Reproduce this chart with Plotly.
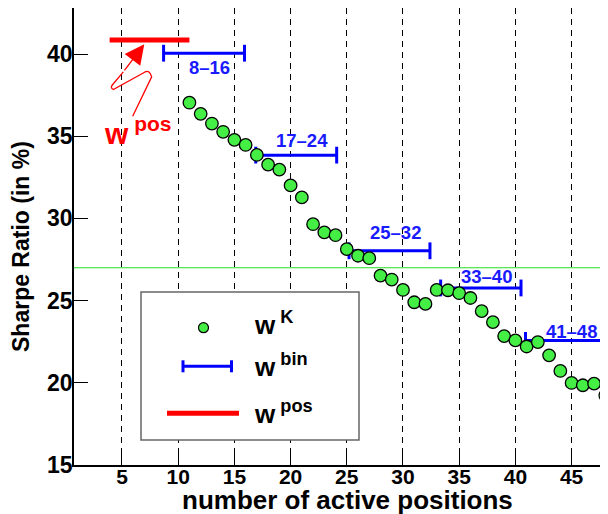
import plotly.graph_objects as go

# ---------------- data ----------------
k_positions = list(range(11, 49))
sharpe_k = [37.04, 36.36, 35.77, 35.27, 34.78, 34.47, 33.86, 33.27, 32.97, 32.01,
            31.28, 29.65, 29.15, 28.98, 28.13, 27.73, 27.58, 26.52, 26.28, 25.65,
            24.90, 24.80, 25.65, 25.63, 25.45, 25.16, 24.36, 23.69, 22.84, 22.58,
            22.21, 22.48, 21.67, 20.72, 19.99, 19.85, 19.95, 19.24]

bin_labels = ["8–16", "17–24", "25–32", "33–40", "41–48"]
bin_start = [8.7, 16.9, 25.2, 33.35, 40.9]
bin_end = [15.9, 24.1, 32.4, 40.5, 48.6]
bin_value = [40.05, 33.85, 28.03, 25.77, 22.58]

pos_start = 3.9
pos_end = 11.0
pos_value = 40.85

baseline_value = 27.0

x_ticks = [5, 10, 15, 20, 25, 30, 35, 40, 45]
y_ticks = [15, 20, 25, 30, 35, 40]

# ---------------- styling ----------------
FONT = "Liberation Sans, Arial, sans-serif"
GREEN = "#44ee44"
BLUE = "#0000ff"
BLUE_TXT = "#1a1aff"
RED = "#ff0000"

# page has an 8px body margin; the figure is sized so that it fills the window
OFF = 8
W, H = 608 - OFF, 514 - OFF
P_LEFT, P_RIGHT, P_TOP, P_BOTTOM = 74, 608, 8, 465   # plot area in window pixels
ML, MR, MT, MB = P_LEFT - OFF, 0, P_TOP - OFF, (514 - P_BOTTOM)
PW, PH = P_RIGHT - P_LEFT, P_BOTTOM - P_TOP


def px(xp):
    return (xp - P_LEFT) / PW


def py(yp):
    return (P_BOTTOM - yp) / PH


fig = go.Figure()

# w^pos line
fig.add_trace(go.Scatter(x=[pos_start, pos_end], y=[pos_value, pos_value], mode="lines",
                         line=dict(color=RED, width=5), showlegend=False, hoverinfo="skip"))

# bins
for s, e, v in zip(bin_start, bin_end, bin_value):
    fig.add_trace(go.Scatter(x=[s, e], y=[v, v], mode="lines+markers",
                             line=dict(color=BLUE, width=3),
                             marker=dict(symbol="line-ns", size=12,
                                         line=dict(color=BLUE, width=3)),
                             showlegend=False, hoverinfo="skip"))

# w^K points
fig.add_trace(go.Scatter(x=k_positions, y=sharpe_k, mode="markers",
                         marker=dict(color=GREEN, size=12.5,
                                     line=dict(color="black", width=1.3)),
                         showlegend=False))

shapes = []
# green baseline
shapes.append(dict(type="line", xref="paper", yref="y", x0=0, x1=1,
                   y0=baseline_value, y1=baseline_value,
                   line=dict(color="#22e022", width=1.2), layer="below"))

# zigzag arrow path (decoration)
shapes.append(dict(type="path", xref="x", yref="y",
                   path="M 5.95,36.22 L 7.64,38.61 Q 7.45,39.05 7.05,38.91 "
                        "L 4.23,37.84 Q 3.95,37.95 4.12,38.1 L 5.12,38.91",
                   line=dict(color=RED, width=1.3)))

# legend box
shapes.append(dict(type="rect", xref="paper", yref="paper",
                   x0=px(141), x1=px(359), y0=py(440), y1=py(292),
                   line=dict(color="#666666", width=1.5), fillcolor="white"))
# legend: green marker
shapes.append(dict(type="circle", xref="paper", yref="paper",
                   x0=px(198.5), x1=px(208.5), y0=py(332.7), y1=py(322.7),
                   line=dict(color="black", width=1.2), fillcolor=GREEN))
# legend: blue bin
shapes.append(dict(type="line", xref="paper", yref="paper",
                   x0=px(183), x1=px(231.5), y0=py(366.3), y1=py(366.3),
                   line=dict(color=BLUE, width=3)))
for xx in (183, 231.5):
    shapes.append(dict(type="line", xref="paper", yref="paper",
                       x0=px(xx), x1=px(xx), y0=py(360.3), y1=py(372.3),
                       line=dict(color=BLUE, width=3)))
# legend: red line
shapes.append(dict(type="line", xref="paper", yref="paper",
                   x0=px(167), x1=px(239), y0=py(413.3), y1=py(413.3),
                   line=dict(color=RED, width=5)))

annotations = []
# arrow head
annotations.append(dict(x=6.98, y=40.59, ax=5.12, ay=38.91, xref="x", yref="y",
                        axref="x", ayref="y", text="", showarrow=True,
                        arrowhead=2, arrowsize=3, arrowwidth=1.3,
                        arrowcolor=RED, standoff=0))
# w^pos red label
annotations.append(dict(x=px(102), y=py(152), xref="paper", yref="paper",
                        xanchor="left", yanchor="bottom", showarrow=False,
                        text="w<sup> pos</sup>",
                        font=dict(family=FONT, size=30, color=RED, weight="bold")))

# bin labels
label_yshift = [-14, 15, 18, 11.5, 9]
for lab, s, e, v, ys in zip(bin_labels, bin_start, bin_end, bin_value, label_yshift):
    annotations.append(dict(x=s + 4.0, y=v, xref="x", yref="y", text=lab,
                            showarrow=False, yshift=ys, xshift=1,
                            font=dict(family=FONT, size=18.5, color=BLUE_TXT, weight="bold")))

# legend texts
for txt, yb in (("w<sup> K</sup>", 342), ("w<sup> bin</sup>", 384), ("w<sup> pos</sup>", 431)):
    annotations.append(dict(x=px(252), y=py(yb), xref="paper", yref="paper",
                            xanchor="left", yanchor="bottom", showarrow=False, text=txt,
                            font=dict(family=FONT, size=26, color="black", weight="bold")))

# axis titles
annotations.append(dict(x=px(347), y=py(517), xref="paper", yref="paper",
                        xanchor="center", yanchor="bottom", showarrow=False,
                        text="number of active positions",
                        font=dict(family=FONT, size=26, color="black", weight="bold")))
annotations.append(dict(x=px(21), y=py(247), xref="paper", yref="paper",
                        xanchor="center", yanchor="middle", showarrow=False,
                        textangle=-90, text="Sharpe Ratio (in %)",
                        font=dict(family=FONT, size=23, color="black", weight="bold")))

fig.update_layout(
    width=W, height=H,
    margin=dict(l=ML, r=MR, t=MT, b=MB, pad=0, autoexpand=False),
    paper_bgcolor="white", plot_bgcolor="white",
    shapes=shapes, annotations=annotations,
    showlegend=False,
    font=dict(family=FONT, color="black"),
)
fig.update_xaxes(range=[0.73, 48.24], tickmode="array", tickvals=x_ticks,
                 ticks="inside", ticklen=13, tickwidth=1.3, tickcolor="black",
                 showline=True, linecolor="black", linewidth=1.5, mirror=True,
                 showgrid=True, gridcolor="black", gridwidth=1, griddash="6px,5px",
                 zeroline=False, automargin=False, ticklabelstandoff=-8,
                 tickfont=dict(family=FONT, size=21, color="black", weight="bold"))
fig.update_yaxes(range=[15, 42.8], tickmode="array", tickvals=y_ticks,
                 ticks="inside", ticklen=14, tickwidth=1.3, tickcolor="black",
                 showline=True, linecolor="black", linewidth=1.5, mirror=False,
                 showgrid=False, zeroline=False, automargin=False, ticklabelstandoff=-5,
                 tickfont=dict(family=FONT, size=23, color="black", weight="bold"))

fig.write_html("out.html")
